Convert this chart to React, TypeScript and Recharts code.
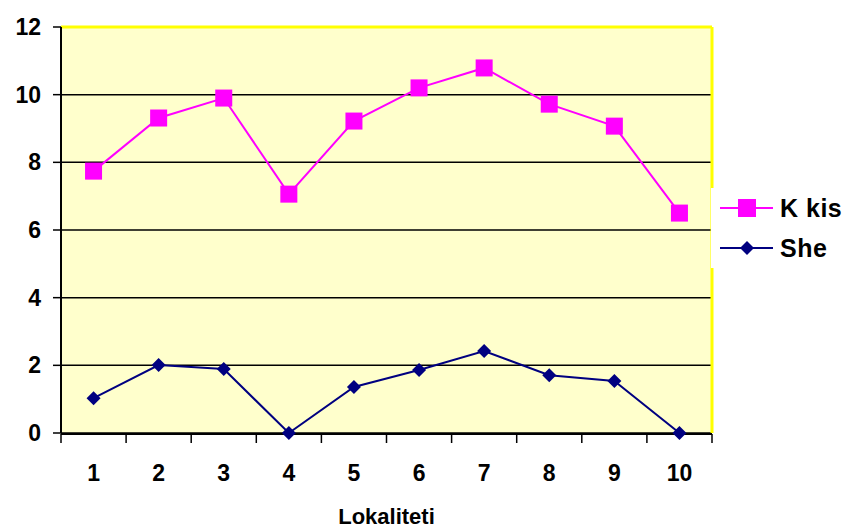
import React from 'react';
import {
  LineChart,
  Line,
  XAxis,
  YAxis,
  CartesianGrid,
  ReferenceLine,
  Legend,
} from 'recharts';

const localities = [1, 2, 3, 4, 5, 6, 7, 8, 9, 10];
const kKis = [7.74, 9.31, 9.9, 7.06, 9.22, 10.2, 10.79, 9.72, 9.07, 6.5];
const she = [1.03, 2.01, 1.89, 0, 1.36, 1.86, 2.42, 1.71, 1.54, 0];
const yTicks = [0, 2, 4, 6, 8, 10, 12];
const edgeTicks = [0.5, 1.5, 2.5, 3.5, 4.5, 5.5, 6.5, 7.5, 8.5, 9.5, 10.5];

const data = localities.map((x, i) => ({ x, kKis: kKis[i], she: she[i] }));

const FONT = '"Liberation Sans", Arial, sans-serif';
const MAGENTA = '#FF00FF';
const NAVY = '#000080';

const SquareDot = (props: any) => {
  const { cx, cy, index } = props;
  if (cx == null || cy == null) return <g key={index} />;
  return <rect key={index} x={cx - 8.5} y={cy - 8.5} width={17} height={17} fill={MAGENTA} />;
};

const DiamondDot = (props: any) => {
  const { cx, cy, index } = props;
  if (cx == null || cy == null) return <g key={index} />;
  return (
    <polygon
      key={index}
      points={`${cx},${cy - 7} ${cx + 7},${cy} ${cx},${cy + 7} ${cx - 7},${cy}`}
      fill={NAVY}
    />
  );
};

// tick marks only, no text
const NoLabel = () => <g />;

const LegendContent = () => {
  const items = [
    { label: 'K kis', color: MAGENTA, shape: 'square' },
    { label: 'She', color: NAVY, shape: 'diamond' },
  ];
  return (
    <div style={{ background: '#fff', width: 133, height: 80, fontFamily: FONT }}>
      {items.map((it) => (
        <div key={it.label} style={{ display: 'flex', alignItems: 'center', height: 40 }}>
          <svg width={69} height={40} style={{ display: 'block' }}>
            <line x1={9} x2={62} y1={20} y2={20} stroke={it.color} strokeWidth={2} />
            {it.shape === 'square' ? (
              <rect x={27} y={11} width={18} height={18} fill={it.color} />
            ) : (
              <polygon points="36,13 43,20 36,27 29,20" fill={it.color} />
            )}
          </svg>
          <span style={{ fontSize: 25, fontWeight: 'bold', color: '#000', letterSpacing: 0.5 }}>{it.label}</span>
        </div>
      ))}
    </div>
  );
};

export default function App() {
  return (
    <div style={{ position: 'absolute', left: 0, top: 0, width: 844, height: 530, background: '#fff' }}>
      <LineChart
        width={844}
        height={530}
        data={data}
        margin={{ top: 27, right: 132, bottom: 95, left: 0 }}
      >
        <CartesianGrid fill="#FFFFCC" stroke="#000" strokeWidth={1.5} vertical={false} />
        <XAxis
          xAxisId="edges"
          type="number"
          dataKey="x"
          domain={[0.5, 10.5]}
          ticks={edgeTicks}
          interval={0}
          height={1}
          tick={<NoLabel />}
          tickSize={9}
          tickLine={{ stroke: '#000', strokeWidth: 1.5 }}
          axisLine={{ stroke: '#000', strokeWidth: 2 }}
        />
        <XAxis
          type="number"
          dataKey="x"
          domain={[0.5, 10.5]}
          ticks={localities}
          interval={0}
          height={1}
          tickSize={0}
          tickMargin={32}
          tickLine={false}
          axisLine={false}
          tick={{ fill: '#000', fontSize: 23, fontWeight: 'bold', fontFamily: FONT }}
          label={{
            value: 'Lokaliteti',
            position: 'bottom',
            offset: 74,
            fill: '#000',
            fontSize: 22,
            fontWeight: 'bold',
            fontFamily: FONT,
          }}
        />
        <YAxis
          width={61}
          domain={[0, 12]}
          ticks={yTicks}
          interval={0}
          tickSize={8}
          tickMargin={12}
          tickLine={{ stroke: '#000', strokeWidth: 1.5 }}
          axisLine={{ stroke: '#000', strokeWidth: 2 }}
          tick={{ fill: '#000', fontSize: 23, fontWeight: 'bold', fontFamily: FONT }}
        />
        <ReferenceLine y={12} stroke="#FFFF00" strokeWidth={3} />
        <ReferenceLine x={10.5} stroke="#FFFF00" strokeWidth={3} />
        <Legend
          content={<LegendContent />}
          layout="vertical"
          align="center"
          verticalAlign="middle"
          wrapperStyle={{ left: 711, top: 188, width: 133, height: 80 }}
        />
        <Line
          dataKey="kKis"
          stroke={MAGENTA}
          strokeWidth={2}
          dot={<SquareDot />}
          activeDot={false}
          isAnimationActive={false}
        />
        <Line
          dataKey="she"
          stroke={NAVY}
          strokeWidth={2}
          dot={<DiamondDot />}
          activeDot={false}
          isAnimationActive={false}
        />
      </LineChart>
    </div>
  );
}
